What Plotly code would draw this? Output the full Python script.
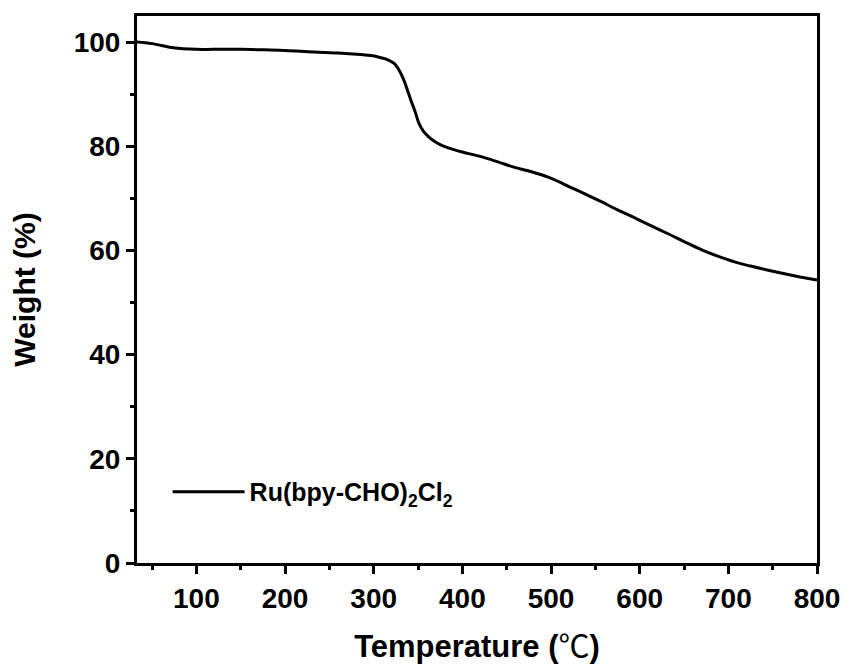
import plotly.graph_objects as go

temperature = [33, 50, 74, 100, 119, 150, 176, 200, 232, 260, 285, 297, 308, 316, 323, 329, 334, 338, 342,
               347, 351, 356, 362, 368, 375, 384, 400, 421, 440, 458, 478, 496, 515, 534, 556, 575, 594,
               612, 632, 650, 670, 688, 707, 725, 745, 770, 800]
weight = [100.0, 99.7, 98.9, 98.6, 98.6, 98.6, 98.5, 98.4, 98.1, 97.9, 97.6, 97.4, 97.0, 96.6, 95.9, 94.5,
          92.7, 90.8, 88.8, 86.5, 84.4, 82.9, 81.8, 81.0, 80.3, 79.7, 78.9, 78.0, 77.0, 76.0, 75.1, 74.1,
          72.7, 71.2, 69.4, 67.8, 66.3, 64.8, 63.2, 61.7, 60.1, 58.9, 57.8, 57.0, 56.2, 55.3, 54.3]
series_name = "Ru(bpy-CHO)<sub>2</sub>Cl<sub>2</sub>"
x_ticks = [100, 200, 300, 400, 500, 600, 700, 800]
y_ticks = [0, 20, 40, 60, 80, 100]

FONT = "Liberation Sans, Arial, Helvetica, sans-serif"

fig = go.Figure()
fig.add_trace(go.Scatter(
    x=temperature, y=weight, mode="lines", name=series_name,
    line=dict(color="black", width=3, shape="spline", smoothing=1.0),
))

axis_common = dict(
    showline=True, linewidth=3, linecolor="black", mirror=True,
    ticks="outside", ticklen=8, tickwidth=3, tickcolor="black",
    showgrid=False, zeroline=False, automargin=False,
    tickfont=dict(family=FONT, size=28, color="black", weight="bold"),
)

fig.update_xaxes(
    range=[33, 800], tickvals=x_ticks,
    minor=dict(ticks="outside", ticklen=4, tickwidth=3, tickcolor="black", dtick=100, tick0=50),
    title=dict(text="Temperature (<span style='font-family:Noto Sans CJK SC;font-weight:normal'>℃</span>)",
               font=dict(family=FONT, size=31, color="black", weight="bold"), standoff=26),
    **axis_common,
)
fig.update_yaxes(
    range=[0, 105], tickvals=y_ticks,
    minor=dict(ticks="outside", ticklen=4, tickwidth=3, tickcolor="black", dtick=20, tick0=10),
    title=dict(text="Weight (%)", font=dict(family=FONT, size=30, color="black", weight="bold"), standoff=30),
    **axis_common,
)

fig.update_layout(
    width=848, height=666,
    margin=dict(l=137, r=31, t=16, b=103),
    plot_bgcolor="white", paper_bgcolor="white",
    showlegend=True,
    legend=dict(x=0.045, y=0.13, xanchor="left", yanchor="middle", bgcolor="rgba(0,0,0,0)",
                font=dict(family=FONT, size=25, color="black", weight="bold"), itemwidth=72),
)

fig.write_html("out.html")
